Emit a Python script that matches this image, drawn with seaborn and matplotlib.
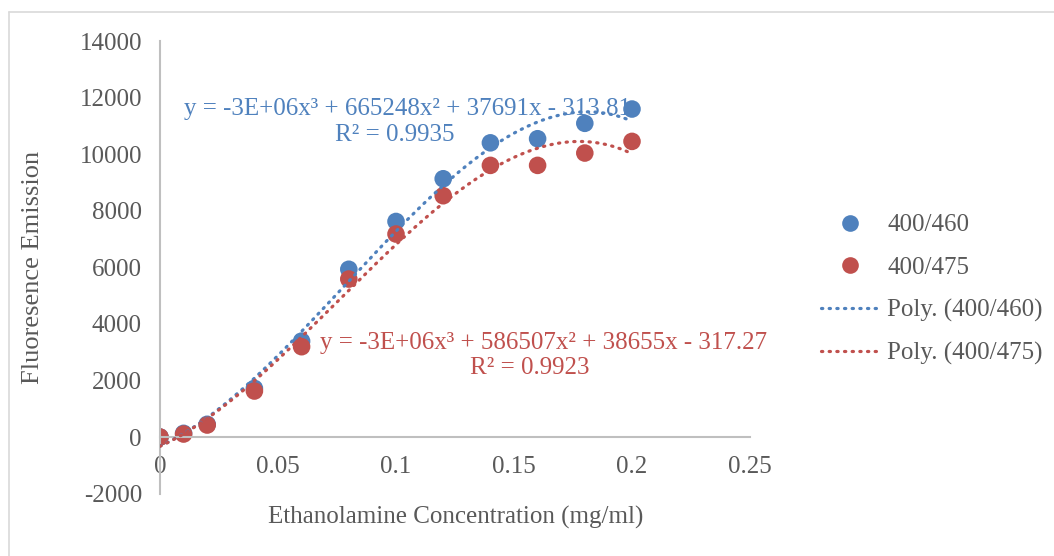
import numpy as np
import pandas as pd
import seaborn as sns
import matplotlib
matplotlib.use("Agg")
import matplotlib.pyplot as plt
from matplotlib.lines import Line2D

# ---- data ----
conc = [0, 0.01, 0.02, 0.04, 0.06, 0.08, 0.10, 0.12, 0.14, 0.16, 0.18, 0.20]
em_460 = [0, 130, 450, 1720, 3390, 5930, 7620, 9130, 10400, 10545, 11090, 11595]
em_475 = [0, 106, 424, 1626, 3193, 5585, 7176, 8530, 9603, 9603, 10039, 10451]
series_names = ["400/460", "400/475"]
eq_460 = "y = -3E+06x³ + 665248x² + 37691x - 313.81"
r2_460 = "R² = 0.9935"
eq_475 = "y = -3E+06x³ + 586507x² + 38655x - 317.27"
r2_475 = "R² = 0.9923"
xticks = [0, 0.05, 0.1, 0.15, 0.2, 0.25]
xtick_labels = ["0", "0.05", "0.1", "0.15", "0.2", "0.25"]
yticks = [-2000, 0, 2000, 4000, 6000, 8000, 10000, 12000, 14000]

BLUE = "#4F81BD"
RED = "#C0504D"
GRAY_TXT = "#595959"
FS = 18

sns.set_theme(style="white")
plt.rcParams["font.family"] = ["Liberation Serif", "DejaVu Serif"]
plt.rcParams["axes.unicode_minus"] = False

W, H = 1054, 556
fig = plt.figure(figsize=(W / 100, H / 100), dpi=100)
ax = fig.add_axes([160 / W, (H - 493.6) / H, 590 / W, 452.6 / H])

df = pd.DataFrame({
    "conc": conc * 2,
    "em": em_460 + em_475,
    "series": [series_names[0]] * len(conc) + [series_names[1]] * len(conc),
})

# trendlines (cubic polynomial fits)
xs = np.linspace(0, 0.2, 200)
for y, c in [(em_460, BLUE), (em_475, RED)]:
    p = np.polyfit(conc, y, 3)
    ax.plot(xs, np.polyval(p, xs), color=c, lw=2.3,
            linestyle=(0, (0.4, 2.0)), dash_capstyle="round", zorder=3)

sns.scatterplot(data=df, x="conc", y="em", hue="series",
                palette=[BLUE, RED], s=160, edgecolor="none",
                legend=False, ax=ax, zorder=2)

ax.set_xlim(0, 0.25)
ax.set_ylim(-2000, 14000)
ax.set_xticks(xticks)
ax.set_xticklabels(xtick_labels)
ax.set_yticks(yticks)
ax.tick_params(axis="both", length=0, labelsize=FS, colors=GRAY_TXT)
ax.tick_params(axis="y", pad=13)
ax.tick_params(axis="x", pad=14)

for s in ["top", "right"]:
    ax.spines[s].set_visible(False)
ax.spines["bottom"].set_position(("data", 0))
ax.spines["left"].set_position(("data", 0))
for s in ["bottom", "left"]:
    ax.spines[s].set_color("#BFBFBF")
    ax.spines[s].set_linewidth(1.5)

ax.set_xlabel("")
ax.set_ylabel("")
fig.text(456 / W, 1 - 517 / H, "Ethanolamine Concentration (mg/ml)",
         ha="center", va="center", fontsize=FS, color=GRAY_TXT)
fig.text(33 / W, 1 - 267 / H, "Fluoresence Emission", rotation=90,
         ha="center", va="center", fontsize=FS + 1, color=GRAY_TXT)

fig.text(408 / W, 1 - 109 / H, eq_460, ha="center", va="center", fontsize=FS, color=BLUE)
fig.text(395 / W, 1 - 135 / H, r2_460, ha="center", va="center", fontsize=FS, color=BLUE)
fig.text(544 / W, 1 - 343 / H, eq_475, ha="center", va="center", fontsize=FS, color=RED)
fig.text(530 / W, 1 - 368 / H, r2_475, ha="center", va="center", fontsize=FS, color=RED)

handles = [
    Line2D([], [], marker="o", color="none", markerfacecolor=BLUE, markeredgecolor="none", markersize=12),
    Line2D([], [], marker="o", color="none", markerfacecolor=RED, markeredgecolor="none", markersize=12),
    Line2D([], [], color=BLUE, lw=2.3, linestyle=(0, (0.4, 2.0)), dash_capstyle="round"),
    Line2D([], [], color=RED, lw=2.3, linestyle=(0, (0.4, 2.0)), dash_capstyle="round"),
]
labels = series_names + ["Poly. (400/460)", "Poly. (400/475)"]
leg = fig.legend(handles, labels, loc="center left", bbox_to_anchor=(821 / W, 1 - 289.5 / H),
                 frameon=False, fontsize=FS, handlelength=2.35, handletextpad=0.3,
                 labelspacing=0.8, borderaxespad=0, borderpad=0)
for t in leg.get_texts():
    t.set_color(GRAY_TXT)

# outer chart border (top and left visible)
fig.add_artist(Line2D([8.5 / W, 1], [1 - 11.5 / H, 1 - 11.5 / H], color="#D9D9D9", lw=1.2))
fig.add_artist(Line2D([8.5 / W, 8.5 / W], [0, 1 - 11.5 / H], color="#D9D9D9", lw=1.2))

fig.savefig("out.png", dpi=100, facecolor="white")
